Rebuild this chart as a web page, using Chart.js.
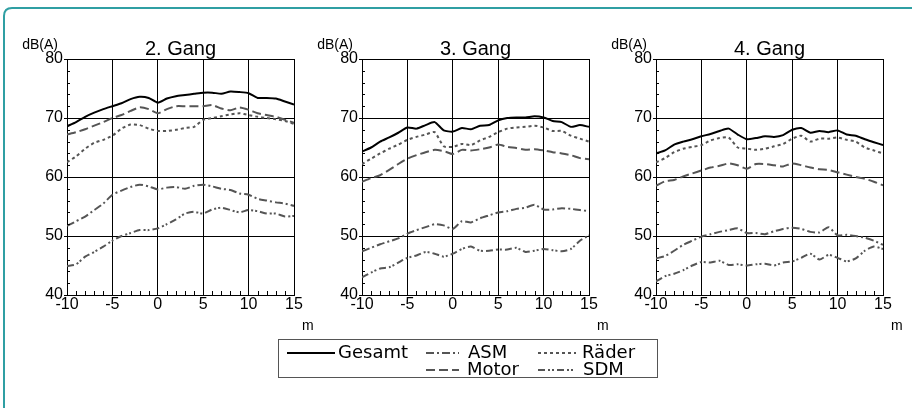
<!DOCTYPE html>
<html>
<head>
<meta charset="utf-8">
<script src="https://cdn.jsdelivr.net/npm/chart.js@4/dist/chart.umd.min.js"></script>
<style>
  html, body { margin: 0; background: #fff; overflow: hidden; }
  #page { position: absolute; left: 0; top: 0; width: 912px; height: 408px; overflow: hidden; }
  #frame { position: absolute; left: 0; top: 0; }
  canvas { position: absolute; top: 0; }
  #legend { position: absolute; left: 278px; top: 339px; width: 380px; height: 39px;
            border: 1px solid #555; box-sizing: border-box; font-family: "DejaVu Sans", Verdana, sans-serif;
            font-size: 18px; color: #000; }
  .sample { position: absolute; }
  .label { position: absolute; line-height: 18px; white-space: nowrap; }
</style>
</head>
<body>
<div id="page">
<svg id="frame" width="912" height="408"><path d="M4,408 L4,16 Q4,8 12,8 L912,8" fill="none" stroke="#2f9fa3" stroke-width="2"/></svg>
<canvas id="g2" width="334" height="340" style="left:0px"></canvas>
<canvas id="g3" width="334" height="340" style="left:295px"></canvas>
<canvas id="g4" width="334" height="340" style="left:589px"></canvas>
<div id="legend"></div>
</div>
<script>
// x positions (m)
const xs = [-10, -9, -8, -7, -6, -5, -4, -3, -2, -1, 0, 1, 2, 3, 4, 5, 6, 7, 8, 9, 10, 11, 12, 13, 14, 15];
const yTicks = [40, 50, 60, 70, 80];
const xTicks = [-10, -5, 0, 5, 10, 15];

// 2. Gang
const gesamt2 = [68.6, 69.3, 70.2, 70.9, 71.5, 72.0, 72.5, 73.2, 73.6, 73.4, 72.6, 73.3, 73.7, 73.9, 74.1, 74.3, 74.3, 74.1, 74.5, 74.4, 74.2, 73.4, 73.4, 73.3, 72.8, 72.3];
const motor2  = [67.2, 67.6, 68.1, 68.7, 69.3, 70.0, 70.5, 71.2, 71.8, 71.5, 70.8, 71.5, 72.0, 72.0, 72.0, 72.0, 72.2, 71.6, 71.3, 71.8, 71.4, 70.8, 70.5, 70.2, 69.7, 69.2];
const raeder2 = [62.5, 63.5, 64.8, 65.8, 66.3, 67.0, 68.2, 68.9, 68.8, 68.2, 67.8, 67.8, 68.0, 68.3, 68.5, 69.7, 70.0, 70.3, 70.6, 70.8, 70.5, 70.2, 70.0, 69.8, 69.5, 69.0];
const asm2    = [51.7, 52.5, 53.3, 54.4, 55.5, 57.0, 57.7, 58.3, 58.7, 58.4, 57.9, 58.2, 58.3, 58.0, 58.5, 58.7, 58.4, 58.0, 57.8, 57.2, 57.0, 56.3, 56.0, 55.7, 55.5, 55.1];
const sdm2    = [44.9, 45.2, 46.5, 47.3, 48.2, 49.2, 50.0, 50.5, 51.0, 51.0, 51.3, 52.0, 52.8, 53.8, 54.1, 53.8, 54.5, 54.8, 54.4, 54.0, 54.4, 54.2, 53.8, 53.8, 53.3, 53.4];

// 3. Gang
const gesamt3 = [64.3, 65.0, 66.0, 66.7, 67.5, 68.4, 68.2, 68.8, 69.3, 67.9, 67.7, 68.3, 68.1, 68.7, 68.8, 69.6, 70.0, 70.1, 70.1, 70.3, 70.1, 69.5, 69.3, 68.5, 68.8, 68.5];
const raeder3 = [62.2, 63.1, 64.0, 64.8, 65.5, 66.3, 66.8, 67.2, 67.6, 65.2, 65.1, 65.6, 65.4, 66.2, 66.8, 67.6, 68.2, 68.4, 68.5, 68.7, 68.4, 67.8, 67.8, 67.0, 66.5, 66.0];
const motor3  = [59.2, 59.8, 60.3, 61.2, 62.2, 63.1, 63.7, 64.2, 64.6, 64.4, 63.9, 64.6, 64.5, 64.7, 65.0, 65.5, 65.1, 64.9, 64.6, 64.7, 64.5, 64.2, 64.0, 63.7, 63.2, 63.0];
const asm3    = [47.4, 48.0, 48.6, 49.1, 49.6, 50.4, 51.0, 51.5, 52.0, 51.8, 51.2, 52.5, 52.3, 53.0, 53.5, 54.0, 54.2, 54.6, 54.8, 55.3, 54.5, 54.5, 54.7, 54.6, 54.4, 54.2];
const sdm3    = [43.0, 43.8, 44.5, 44.7, 45.5, 46.3, 46.7, 47.3, 47.0, 46.5, 47.0, 47.8, 48.2, 47.5, 47.5, 47.7, 47.7, 48.0, 47.3, 47.5, 47.8, 47.6, 47.4, 47.8, 49.2, 50.1];

// 4. Gang
const gesamt4 = [64.0, 64.5, 65.5, 66.0, 66.4, 66.9, 67.3, 67.8, 68.2, 67.2, 66.4, 66.6, 66.9, 66.8, 67.1, 68.0, 68.3, 67.5, 67.8, 67.6, 67.9, 67.2, 67.0, 66.4, 65.9, 65.4];
const raeder4 = [62.5, 63.2, 64.2, 64.8, 65.1, 65.4, 66.2, 66.6, 66.7, 65.0, 64.8, 64.6, 64.8, 65.2, 65.6, 66.5, 67.0, 66.0, 66.5, 66.5, 66.7, 66.3, 66.0, 65.0, 64.5, 64.0];
const motor4  = [58.5, 59.3, 59.5, 60.1, 60.6, 61.1, 61.6, 61.9, 62.3, 62.0, 61.4, 62.2, 62.2, 62.0, 61.8, 62.3, 62.0, 61.6, 61.3, 61.2, 60.8, 60.4, 60.0, 59.7, 59.2, 58.6];
const asm4    = [46.2, 46.6, 47.5, 48.5, 49.2, 49.9, 50.3, 50.7, 51.0, 51.3, 50.5, 50.5, 50.3, 50.8, 51.2, 51.4, 51.2, 50.7, 50.6, 51.5, 50.1, 50.2, 50.0, 49.7, 49.2, 48.5];
const sdm4    = [42.3, 43.2, 43.6, 44.2, 45.0, 45.6, 45.5, 45.8, 45.1, 45.2, 45.0, 45.2, 45.3, 45.0, 45.5, 45.7, 46.3, 47.0, 46.0, 46.8, 46.3, 45.7, 46.2, 47.5, 48.2, 47.8];

const seriesStyle = {
    Gesamt: { color: '#000000', width: 2, dash: [] },
    ASM:    { color: '#555555', width: 2, dash: [8, 3, 2, 3] },
    Motor:  { color: '#555555', width: 2, dash: [9, 4] },
    'Räder':{ color: '#555555', width: 2, dash: [3, 3] },
    SDM:    { color: '#555555', width: 2, dash: [7, 3, 2, 2, 2, 3] }
};

const FONT = '"Liberation Sans", Arial, sans-serif';

// titles, axis units and minor ticks
const panelDecor = {
    id: 'panelDecor',
    afterDraw(chart, args, opts) {
        const { ctx, chartArea: a, scales } = chart;
        ctx.save();
        ctx.fillStyle = '#000';
        ctx.font = '20px ' + FONT;
        ctx.textAlign = 'center';
        ctx.textBaseline = 'alphabetic';
        ctx.fillText(opts.title, (a.left + a.right) / 2, a.top - 4);
        ctx.font = '14px ' + FONT;
        ctx.textAlign = 'right';
        ctx.fillText('dB(A)', a.left - 9, a.top - 10);
        ctx.textAlign = 'left';
        ctx.fillText('m', a.right + 8, a.bottom + 35);

        ctx.strokeStyle = '#000';
        ctx.lineWidth = 1;
        ctx.beginPath();
        for (let v = -10; v <= 15; v++) {
            if (v % 5 === 0) continue;
            const px = Math.round(scales.x.getPixelForValue(v)) + 0.5;
            ctx.moveTo(px, a.bottom);
            ctx.lineTo(px, a.bottom - 4);
        }
        for (let v = 42; v < 80; v += 2) {
            if (v % 10 === 0) continue;
            const py = Math.round(scales.y.getPixelForValue(v)) + 0.5;
            ctx.moveTo(a.left, py);
            ctx.lineTo(a.left + 3, py);
        }
        ctx.stroke();
        ctx.restore();
    }
};

function makePanel(canvasId, title, data) {
    const ctx = document.getElementById(canvasId).getContext('2d');
    const order = ['SDM', 'ASM', 'Räder', 'Motor', 'Gesamt'];
    return new Chart(ctx, {
        type: 'line',
        data: {
            datasets: order.map(name => ({
                label: name,
                data: xs.map((x, i) => ({ x: x, y: data[name][i] })),
                borderColor: seriesStyle[name].color,
                borderWidth: seriesStyle[name].width,
                borderDash: seriesStyle[name].dash,
                pointRadius: 0,
                tension: 0.2,
                fill: false
            }))
        },
        options: {
            responsive: false,
            animation: false,
            events: [],
            layout: { padding: { left: 0, top: 59, right: 40, bottom: 15 } },
            plugins: {
                legend: { display: false },
                tooltip: { enabled: false },
                panelDecor: { title: title }
            },
            scales: {
                x: {
                    type: 'linear', min: -10, max: 15,
                    afterBuildTicks: s => { s.ticks = xTicks.map(v => ({ value: v })); },
                    afterFit: s => { s.height = 30; },
                    grid: { color: '#000', lineWidth: 1, tickLength: 1 },
                    border: { color: '#000', width: 1 },
                    ticks: { color: '#000', font: { family: FONT, size: 16 }, padding: -1, maxRotation: 0 }
                },
                y: {
                    min: 40, max: 80,
                    afterBuildTicks: s => { s.ticks = yTicks.map(v => ({ value: v })); },
                    afterFit: s => { s.width = 67; },
                    grid: { color: '#000', lineWidth: 1, tickLength: 3 },
                    border: { color: '#000', width: 1 },
                    ticks: { color: '#000', font: { family: FONT, size: 16 }, padding: 1 }
                }
            }
        },
        plugins: [panelDecor]
    });
}

makePanel('g2', '2. Gang', { Gesamt: gesamt2, ASM: asm2, Motor: motor2, 'Räder': raeder2, SDM: sdm2 });
makePanel('g3', '3. Gang', { Gesamt: gesamt3, ASM: asm3, Motor: motor3, 'Räder': raeder3, SDM: sdm3 });
makePanel('g4', '4. Gang', { Gesamt: gesamt4, ASM: asm4, Motor: motor4, 'Räder': raeder4, SDM: sdm4 });

// shared legend below the panels (offsets inside the legend box)
const legendItems = [
    { name: 'Gesamt', line: 8,   len: 48, text: 59,  top: 3 },
    { name: 'ASM',    line: 147, len: 33, text: 189, top: 3 },
    { name: 'Räder',  line: 259, len: 38, text: 303, top: 3 },
    { name: 'Motor',  line: 147, len: 33, text: 188, top: 20 },
    { name: 'SDM',    line: 259, len: 38, text: 304, top: 20 }
];
const legend = document.getElementById('legend');
legendItems.forEach(it => {
    const st = seriesStyle[it.name];
    const svg = document.createElementNS('http://www.w3.org/2000/svg', 'svg');
    svg.setAttribute('class', 'sample');
    svg.setAttribute('width', it.len);
    svg.setAttribute('height', 4);
    svg.style.left = it.line + 'px';
    svg.style.top = (it.top + 8) + 'px';
    svg.innerHTML = '<line x1="0" y1="2" x2="' + it.len + '" y2="2" stroke="' + st.color + '" stroke-width="' + st.width +
        '" stroke-dasharray="' + (st.dash.join(',') || 'none') + '"/>';
    legend.appendChild(svg);
    const span = document.createElement('span');
    span.className = 'label';
    span.style.left = it.text + 'px';
    span.style.top = it.top + 'px';
    span.textContent = it.name;
    legend.appendChild(span);
});
</script>
</body>
</html>
